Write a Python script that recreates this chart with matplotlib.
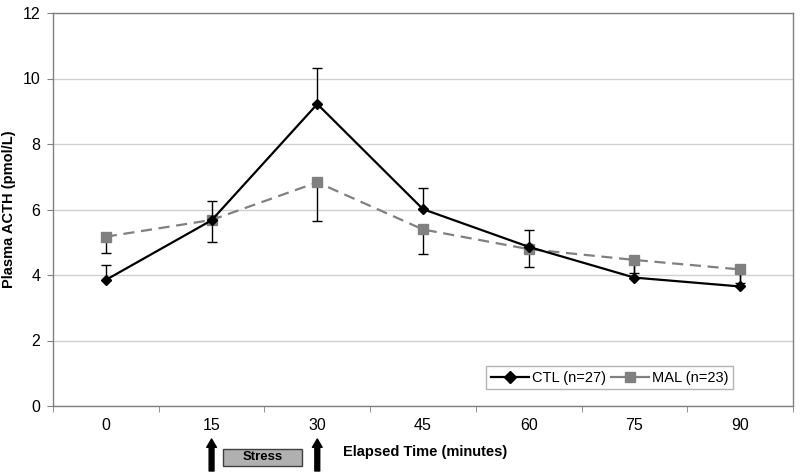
import matplotlib
matplotlib.use("Agg")
from matplotlib import pyplot as plt
from matplotlib.lines import Line2D
from matplotlib.patches import Rectangle
from matplotlib.transforms import blended_transform_factory

plt.rcParams['font.family'] = ['Liberation Sans', 'DejaVu Sans']

times = ["0", "15", "30", "45", "60", "75", "90"]
ctl = [3.85, 5.67, 9.22, 6.01, 4.86, 3.92, 3.65]
ctl_err = [0.45, 0.6, 1.1, 0.65, 0.5, 0.45, 0.45]
mal = [5.17, 5.68, 6.83, 5.39, 4.79, 4.46, 4.17]
mal_err = [0.5, 0.68, 1.18, 0.75, 0.55, 0.4, 0.4]
stress_start, stress_end = "15", "30"

fig = plt.figure(figsize=(8, 4.75), dpi=100)
ax = fig.add_axes([53/800, 1-406/475, 740/800, 393/475])
x = list(range(len(times)))

ax.errorbar(x, ctl, yerr=[[0]*len(ctl), ctl_err], fmt='none', ecolor='black',
            elinewidth=1, capsize=3.5, capthick=1, zorder=2)
ax.errorbar(x, mal, yerr=[mal_err, [0]*len(mal)], fmt='none', ecolor='black',
            elinewidth=1, capsize=3.5, capthick=1, zorder=2)
ax.plot(x, mal, color='#808080', lw=1.6, dashes=(5, 3), marker='s', markersize=7,
        zorder=3)
ax.plot(x, ctl, color='black', lw=1.6, marker='D', markersize=5.5, zorder=4)

ax.set_xlim(-0.5, len(times)-0.5)
ax.set_ylim(0, 12)
ax.set_yticks(range(0, 13, 2))
ax.set_xticks(x)
ax.set_xticklabels(times)
ax.set_xticks([i-0.5 for i in range(len(times)+1)], minor=True)
ax.tick_params(axis='x', which='major', length=0, pad=9, labelsize=11.5)
ax.tick_params(axis='x', which='minor', length=4, color='#808080')
ax.tick_params(axis='y', length=4, color='#808080', labelsize=11.5, pad=5)
ax.yaxis.grid(True, color='#d0d0d0', lw=1)
ax.set_axisbelow(True)
for s in ax.spines.values():
    s.set_color('#808080')
    s.set_linewidth(1)

ax.set_ylabel("Plasma ACTH (pmol/L)", fontweight='bold', fontsize=10.5, labelpad=5)

# legend handles are drawn solid, as in the original
handles = [Line2D([], [], color='black', lw=1.6, marker='D', markersize=6),
           Line2D([], [], color='#808080', lw=1.6, marker='s', markersize=7)]
leg = ax.legend(handles, ['CTL (n=27)', 'MAL (n=23)'], loc='lower right',
                bbox_to_anchor=(0.919, 0.043), ncol=2, fontsize=10.5, frameon=True,
                fancybox=False, borderaxespad=0, handlelength=2.6, columnspacing=0.4,
                handletextpad=0.2, borderpad=0.3)
leg.get_frame().set_edgecolor('#a0a0a0')
leg.get_frame().set_linewidth(1)

# stress annotation below the axis
i0 = times.index(stress_start)
i1 = times.index(stress_end)
for i in (i0, i1):
    ax.annotate('', xy=(i, 1-439/475), xytext=(i, 1-471/475),
                xycoords=('data', 'figure fraction'),
                textcoords=('data', 'figure fraction'),
                arrowprops=dict(arrowstyle='simple,head_length=0.6,head_width=0.7,tail_width=0.35',
                                color='black', shrinkA=0, shrinkB=0))
tr = blended_transform_factory(ax.transData, fig.transFigure)
ax.add_patch(Rectangle((i0+0.11, 1-466/475), 0.75, 17/475, transform=tr,
                       facecolor='#b0b0b0', edgecolor='#404040', lw=1, clip_on=False))
ax.text(i0+0.485, 1-457.5/475, "Stress", transform=tr, ha='center', va='center',
        fontsize=9.5, fontweight='bold')
fig.text(343/800, 1-452/475, "Elapsed Time (minutes)", ha='left', va='center',
         fontsize=10.5, fontweight='bold')

fig.savefig("out.png", dpi=100)
